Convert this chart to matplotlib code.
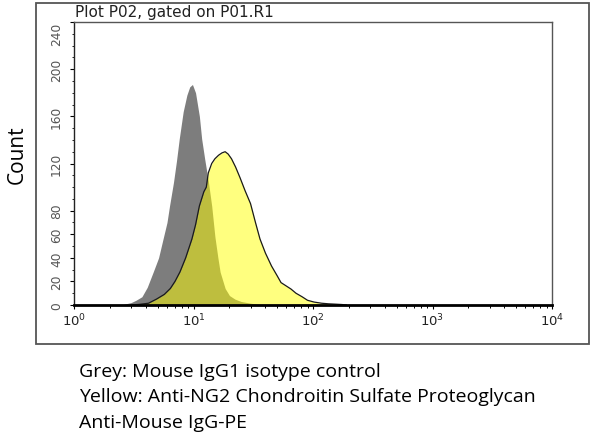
import matplotlib
matplotlib.use("Agg")
import matplotlib.pyplot as plt
from matplotlib.patches import Rectangle
from matplotlib.ticker import FixedLocator, NullFormatter

# ---- data ----
grey_x = [2.5, 2.7, 3.0, 3.3, 3.7, 4.1, 4.6, 5.1, 5.5, 6.0, 6.3, 6.8, 7.2, 7.6,
          8.2, 8.8, 9.3, 9.8, 10.4, 11.2, 11.7, 12.4, 13.3, 14.2, 15.1, 16.0,
          16.7, 18.4, 20.0, 22.2, 25.0, 30.0, 36.0, 42.0]
grey_y = [0, 1, 2, 4, 7, 15, 28, 40, 54, 70, 84, 104, 122, 141,
          164, 178, 185, 187, 180, 160, 141, 124, 105, 84, 58, 40,
          28, 14, 8, 5, 3, 1.5, 0.5, 0]

yellow_x = [3.0, 3.5, 4.2, 4.9, 5.7, 6.4, 7.0, 7.7, 8.6, 9.7, 10.4, 11.2, 12.2,
            12.8, 13.3, 14.2, 15.1, 16.2, 17.3, 18.4, 19.5, 20.8, 22.5, 24.5,
            27.0, 30.0, 33.0, 36.0, 40.0, 45.0, 50.0, 54.0, 60.0, 65.5, 72.0,
            81.0, 90.0, 102.0, 118.0, 135.0, 155.0, 175.0, 190.0]
yellow_y = [0, 0.5, 1.5, 5, 9, 14, 20, 28, 40, 56, 68, 84, 96,
            100, 112, 120, 124, 127, 129, 130, 128, 124, 117, 108,
            97, 86, 70, 56, 44, 33, 25, 19, 16, 13.5, 10,
            7, 4, 2.5, 1.5, 1, 0.7, 0.4, 0]

ytick_vals = [0, 20, 40, 60, 80, 120, 160, 200, 240]
xtick_vals = [1, 10, 100, 1000, 10000]
xtick_labels = [r"$10^{0}$", r"$10^{1}$", r"$10^{2}$", r"$10^{3}$", r"$10^{4}$"]

title_text = "Plot P02, gated on P01.R1"
ylabel_text = "Count"
caption_lines = ["Grey: Mouse IgG1 isotype control",
                 "Yellow: Anti-NG2 Chondroitin Sulfate Proteoglycan",
                 "Anti-Mouse IgG-PE"]

W, H = 600, 439
fig = plt.figure(figsize=(W / 100, H / 100), dpi=100)

# outer frame
fig.patches.append(Rectangle((36 / W, 1 - 345 / H), (589 - 36) / W, (345 - 4) / H,
                             transform=fig.transFigure, fill=False,
                             edgecolor="#555555", linewidth=1.3))

ax = fig.add_axes([74 / W, 1 - 306 / H, (552 - 74) / W, (306 - 23) / H])
ax.set_xscale("log")
ax.set_xlim(1, 10000)
ax.set_ylim(0, 240)

ax.fill_between(grey_x, grey_y, 0, color="#7d7d7d", linewidth=0)
ax.fill_between(yellow_x, yellow_y, 0, color="#ffff00", alpha=0.5, linewidth=0)
ax.plot(yellow_x, yellow_y, color="#1a1a1a", linewidth=0.9)

for side in ["top", "right"]:
    ax.spines[side].set_color("#555555")
    ax.spines[side].set_linewidth(1.0)
ax.spines["left"].set_color("#222222")
ax.spines["left"].set_linewidth(1.0)
ax.spines["bottom"].set_color("black")
ax.spines["bottom"].set_linewidth(2.0)

ax.set_xticks(xtick_vals)
ax.set_xticklabels(xtick_labels, fontsize=9.5, color="#222222")
ax.xaxis.set_minor_locator(FixedLocator(
    [m * d for d in [1, 10, 100, 1000] for m in range(2, 10)]))
ax.xaxis.set_minor_formatter(NullFormatter())
ax.tick_params(axis="x", which="major", length=3, width=0.8, direction="out", pad=2)
ax.tick_params(axis="x", which="minor", length=2, width=0.7, direction="out")

ax.set_yticks(ytick_vals)
ax.set_yticks(list(range(10, 240, 10)), minor=True)
ax.set_yticklabels([str(v) for v in ytick_vals], rotation=90, fontsize=8.8,
                   color="#555555", va="center")
ax.get_yticklabels()[-1].set_va("top")
ax.tick_params(axis="y", which="major", length=3, width=0.8, direction="out", pad=5)
ax.tick_params(axis="y", which="minor", length=1.5, width=0.6, direction="out")

fig.text(75 / W, 1 - 13 / H, title_text, fontsize=11, color="#222222",
         ha="left", va="center", family="DejaVu Sans")
fig.text(17 / W, 1 - 155 / H, ylabel_text, fontsize=15, rotation=90,
         ha="center", va="center", family="Open Sans")

for i, line in enumerate(caption_lines):
    fig.text(79 / W, 1 - (372 + 25.5 * i) / H, line, fontsize=14,
             ha="left", va="center", family="Open Sans")

fig.savefig("out.png", dpi=100)
